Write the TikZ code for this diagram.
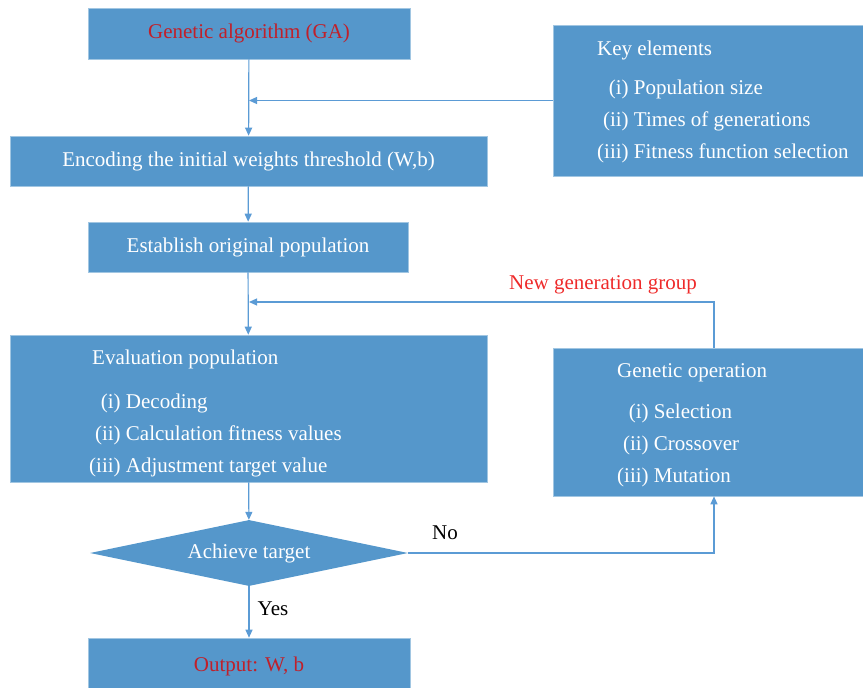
\documentclass[tikz,border=0pt]{standalone}
\usepackage{fontspec}
\setmainfont{Liberation Serif}
\usetikzlibrary{shapes.geometric,arrows.meta}

\definecolor{boxblue}{HTML}{5597CB}
\definecolor{linkblue}{HTML}{5B9BD5}
\definecolor{titlered}{HTML}{C0202A}
\definecolor{loopred}{HTML}{EE2A2A}

\tikzset{
  box/.style={fill=boxblue, draw=boxblue!55!white, line width=0.6pt, inner sep=0pt, text=white},
  decide/.style={diamond, aspect=4.8, fill=boxblue, inner sep=0pt, text=white},
  link/.style={draw=linkblue, line width=1.2pt, -{Triangle[width=7pt,length=8pt]}},
  itemlist/.style={anchor=west, inner sep=0pt, text=white, font=\fontsize{21}{32}\selectfont},
}

\begin{document}
\begin{tikzpicture}[x=1pt, y=-1pt, font=\fontsize{21}{25}\selectfont]
\useasboundingbox (0,0) rectangle (863,688);

	% main column
	\node[box, minimum width=322, minimum height=51] (ga) at (249,33.5) {\textcolor{titlered}{Genetic algorithm (GA)}};
	\node[box, minimum width=477, minimum height=50] (enc) at (248.5,161) {Encoding the initial weights threshold (W,b)};
	\node[box, minimum width=320, minimum height=50] (est) at (248,247) {Establish original population};
	\node[box, minimum width=477, minimum height=147] (eval) at (248.5,408.5) {};
	\node[decide, minimum width=318, minimum height=66] (target) at (249,553) {Achieve target};
	\node[box, minimum width=322, minimum height=56] (out) at (249,666) {\textcolor{titlered}{Output: W, b}};

	% side boxes
	\node[box, minimum width=310, minimum height=151] (keyel) at (708,100.5) {};
	\node[box, minimum width=310, minimum height=148] (genop) at (708,422) {};

	\node[itemlist] (keytext) at (597,101) {\begin{tabular}{@{}r@{ }l@{}}
		\multicolumn{2}{@{}l@{}}{Key elements}\\[7pt]
		(i) & Population size\\
		(ii) & Times of generations\\
		(iii) & Fitness function selection
	\end{tabular}};
	\node[itemlist] (evaltext) at (89,412) {\begin{tabular}{@{}r@{ }l@{}}
		\multicolumn{2}{@{}l@{}}{\hspace{3pt}Evaluation population}\\[12pt]
		(i) & Decoding\\
		(ii) & Calculation fitness values\\
		(iii) & Adjustment target value
	\end{tabular}};
	\node[itemlist] (genoptext) at (617,424) {\begin{tabular}{@{}r@{ }l@{}}
		\multicolumn{2}{@{}l@{}}{Genetic operation}\\[9pt]
		(i) & Selection\\
		(ii) & Crossover\\
		(iii) & Mutation
	\end{tabular}};

	% connectors
	\coordinate (loop) at (714,302);
	\draw[link] (ga) -- (enc);
	\draw[link] (keyel.west) -- (ga.south |- keyel.west);
	\draw[link] (enc) -- (est);
	\draw[link] (est) -- (eval);
	\draw[link] (loop |- genop.north) -- (loop) -- (ga.south |- loop);
	\draw[link] (eval) -- (target);
	\draw[link] (target) -- (out);
	\draw[link] (target.east) -- (loop |- target.east) -- (loop |- genop.south);

	\node[text=loopred] (newgen) at (603,285) {New generation group};
	\node (no) at (445,533) {No};
	\node (yes) at (273,609) {Yes};
\end{tikzpicture}
\end{document}
